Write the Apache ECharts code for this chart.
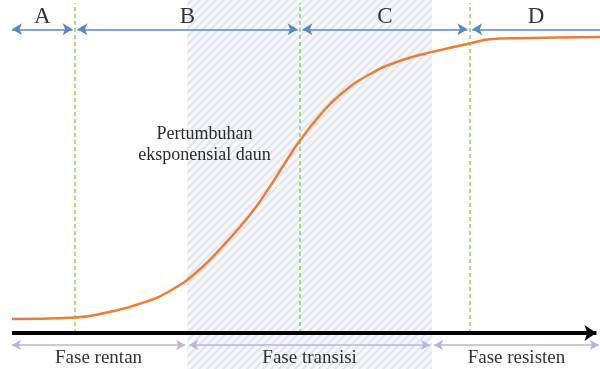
<!DOCTYPE html>
<html>
<head>
<meta charset="utf-8">
<script src="https://cdn.jsdelivr.net/npm/echarts@6/dist/echarts.min.js"></script>
<style>
  html, body { margin: 0; padding: 0; background: #fff; }
  #Chart { width: 600px; height: 369px; }
</style>
</head>
<body>
<div id="Chart"></div>
<script>
// kurva pertumbuhan daun (waktu vs pertumbuhan)
const waktu = [2, 12, 18, 24, 29, 33.3, 37.2, 41.7, 45, 47.2, 50, 53.3, 56.7, 61.7, 67.2, 72.8, 78.3, 81.7, 86, 100];
const pertumbuhan = [4.7, 5.1, 7.0, 10.3, 15.0, 21.5, 29.5, 40, 49.5, 56.5, 65, 73.5, 80.5, 87.5, 92.3, 95.3, 97.8, 99.2, 99.6, 100];

// fase atas A-D, batas fase (garis hijau putus-putus)
const hurufFase = ['A', 'B', 'C', 'D'];
const batasFase = [2, 12.5, 50, 78.3, 100];
// fase bawah
const namaFase = ['Fase rentan', 'Fase transisi', 'Fase resisten'];
const batasBawah = [2, 31.2, 72, 99.8];
const areaTransisi = [31.2, 72];
const catatan = ['Pertumbuhan', 'eksponensial daun'];
const posisiCatatan = [34.1, 63.5];

const serif = 'Liberation Serif';
const textColor = '#333333';

// pola arsiran diagonal
const hatch = document.createElement('canvas');
hatch.width = 8;
hatch.height = 8;
const hc = hatch.getContext('2d');
hc.fillStyle = '#F6F8FC';
hc.fillRect(0, 0, 8, 8);
hc.strokeStyle = '#DFE5EF';
hc.lineWidth = 2;
hc.beginPath();
hc.moveTo(0, 8); hc.lineTo(8, 0);
hc.moveTo(-2, 2); hc.lineTo(2, -2);
hc.moveTo(6, 10); hc.lineTo(10, 6);
hc.stroke();

const garisHijau = batasFase.slice(1, 4).map(x => [{ coord: [x, 0] }, { coord: [x, 111.5] }]);

const panahAtas = hurufFase.map((h, i) => {
    const a = batasFase[i] + (i === 0 ? 0 : 0.4);
    const b = batasFase[i + 1] - (i === 3 ? 0 : 0.4);
    return [
        { name: h, coord: [a, 102.6], symbol: 'arrow' },
        { coord: [b, 102.6], symbol: i === 3 ? 'none' : 'arrow' }
    ];
});

const panahBawah = namaFase.map((n, i) => [
    { name: n, coord: [batasBawah[i] + (i === 0 ? 0 : 0.35), -4.1] },
    { coord: [batasBawah[i + 1] - (i === 2 ? 0 : 0.35), -4.1] }
]);

const option = {
    backgroundColor: '#ffffff',
    animation: false,
    grid: { left: 0, right: 0, top: 0, bottom: 0 },
    xAxis: { type: 'value', min: 0, max: 100, show: false },
    yAxis: { type: 'value', min: -12.2, max: 112.5, show: false },
    series: [
        {
            type: 'line',
            data: waktu.map((x, i) => [x, pertumbuhan[i]]),
            smooth: 0.5,
            symbol: 'none',
            z: 5,
            lineStyle: { color: '#ED7D31', width: 2.5 },
            markArea: {
                silent: true,
                itemStyle: { color: { image: hatch, repeat: 'repeat' } },
                data: [[{ xAxis: areaTransisi[0] }, { xAxis: areaTransisi[1] }]]
            },
            markPoint: {
                silent: true,
                symbol: 'circle',
                symbolSize: 0,
                label: {
                    show: true,
                    position: 'inside',
                    formatter: catatan.join('\n'),
                    fontFamily: serif,
                    fontSize: 18,
                    lineHeight: 21,
                    color: '#2b2b2b'
                },
                data: [{ coord: posisiCatatan }]
            }
        },
        {
            type: 'line',
            data: [],
            z: 3,
            markLine: {
                silent: true,
                symbol: 'none',
                label: { show: false },
                lineStyle: { color: '#92D050', width: 1.5, type: [4, 3] },
                data: garisHijau
            }
        },
        {
            type: 'line',
            data: [],
            z: 4,
            markLine: {
                silent: true,
                symbolSize: [9, 10],
                lineStyle: { color: '#5B87C5', width: 1.5, type: 'solid' },
                label: {
                    show: true,
                    position: 'middle',
                    formatter: '{b}',
                    distance: 1,
                    fontFamily: serif,
                    fontSize: 23,
                    color: textColor
                },
                data: panahAtas
            }
        },
        {
            type: 'line',
            data: [],
            z: 4,
            markLine: {
                silent: true,
                symbol: ['arrow', 'arrow'],
                symbolSize: [8, 9],
                lineStyle: { color: '#BBB2DD', width: 1.5, type: 'solid' },
                label: {
                    show: true,
                    position: 'insideMiddleBottom',
                    formatter: '{b}',
                    distance: 3,
                    fontFamily: serif,
                    fontSize: 19,
                    color: textColor
                },
                data: panahBawah
            }
        },
        {
            type: 'line',
            data: [],
            z: 6,
            markLine: {
                silent: true,
                symbol: ['none', 'arrow'],
                symbolSize: [12, 12],
                label: { show: false },
                lineStyle: { color: '#000000', width: 4, type: 'solid' },
                data: [[{ coord: [2, 0] }, { coord: [99.4, 0] }]]
            }
        }
    ]
};

const myChart = echarts.init(document.getElementById('Chart'));
myChart.setOption(option);
</script>
</body>
</html>
